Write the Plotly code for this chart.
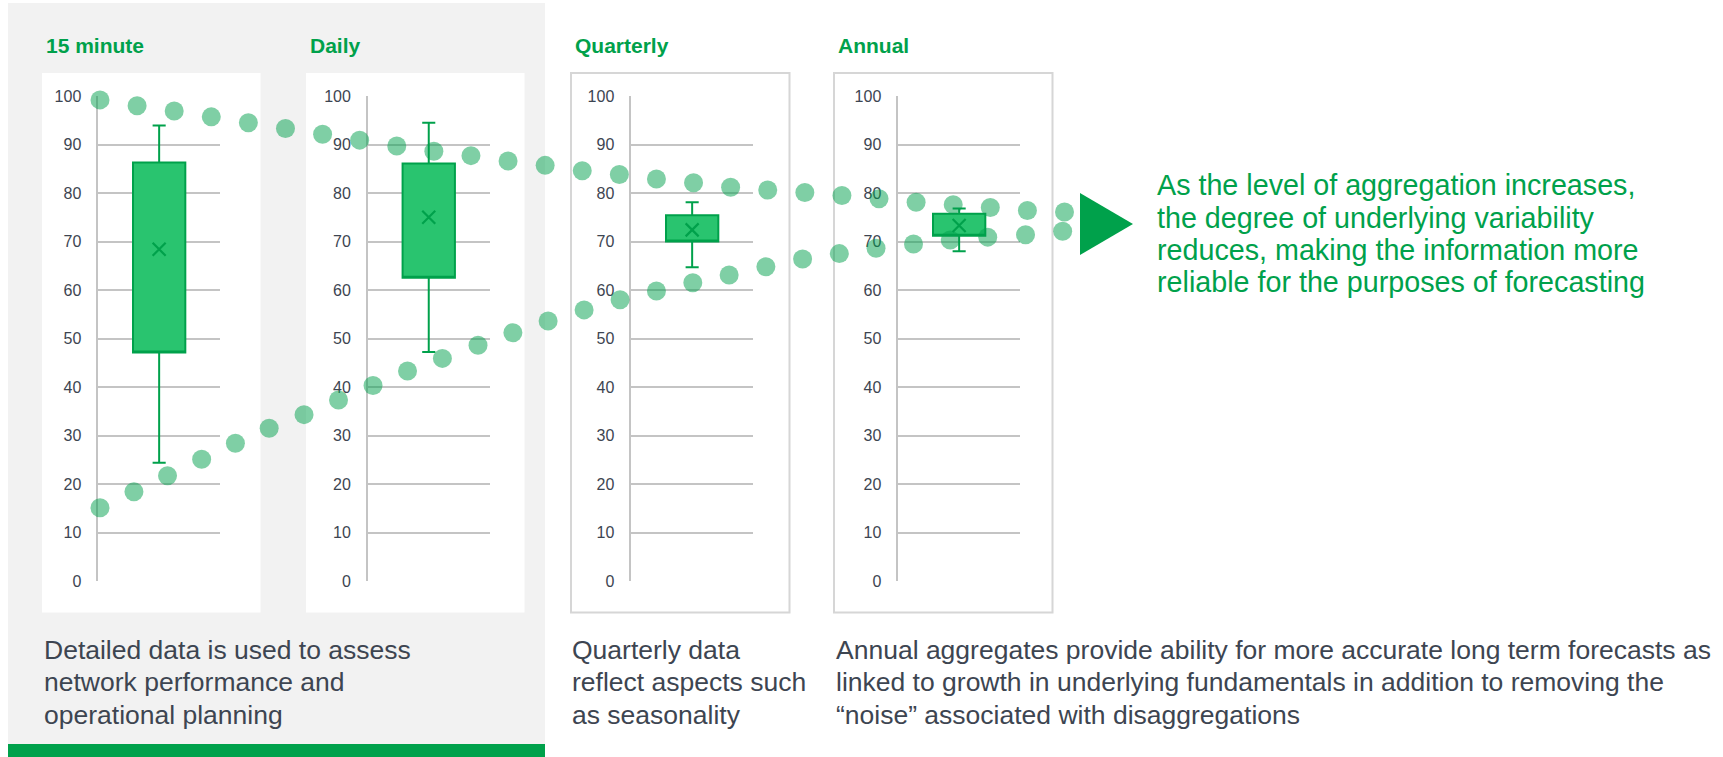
import plotly.graph_objects as go

# panel titles and captions
panel_titles = ["15 minute", "Daily", "Quarterly", "Annual"]
captions = [
    ["Detailed data is used to assess", "network performance and", "operational planning"],
    ["Quarterly data", "reflect aspects such", "as seasonality"],
    ["Annual aggregates provide ability for more accurate long term forecasts as",
     "linked to growth in underlying fundamentals in addition to removing the",
     "\u201cnoise\u201d associated with disaggregations"],
]
message = ["As the level of aggregation increases,",
           "the degree of underlying variability",
           "reduces, making the information more",
           "reliable for the purposes of forecasting"]

# box statistics per aggregation level
box_q1 = [47.1, 62.5, 70.0, 71.2]
box_q3 = [86.3, 86.1, 75.4, 75.7]
box_low = [24.4, 47.2, 64.7, 68.0]
box_high = [93.9, 94.5, 78.1, 76.8]
box_mean = [68.4, 75.0, 72.4, 73.3]

# the two converging dotted paths (x = time step)
upper_step = list(range(27))
upper_val = [99.2, 98.0, 96.9, 95.7, 94.5, 93.3, 92.1, 90.9, 89.7, 88.6, 87.7, 86.6, 85.7,
             84.6, 83.8, 82.9, 82.1, 81.2, 80.6, 80.1, 79.5, 78.8, 78.1, 77.6, 77.0, 76.4, 76.1]
lower_step = [0, 0.915, 1.82, 2.74, 3.65, 4.56, 5.50, 6.43, 7.36, 8.29, 9.23, 10.19, 11.13, 12.08,
              13.05, 14.02, 15.0, 15.98, 16.96, 17.95, 18.94, 19.93, 20.92, 21.93, 22.92, 23.93,
              24.95, 25.95]
lower_val = [15.1, 18.4, 21.7, 25.1, 28.4, 31.5, 34.3, 37.3, 40.3, 43.3, 45.9, 48.6, 51.2, 53.6,
             55.9, 58.0, 59.8, 61.5, 63.1, 64.8, 66.4, 67.5, 68.6, 69.5, 70.3, 70.9, 71.4, 72.1]

W, H = 1723, 757
GREEN = "#00a14b"
BOX_FILL = "#29c46f"
TEXT = "#3d4551"
FONT = "Arial, Liberation Sans, sans-serif"


def px(x):
    return x / W


def py(y):
    return 1 - y / H


panel_left = [42, 306, 571, 834]
axis_left = [98.3, 367.9, 631.3, 898.3]
ydom = [py(581), py(96)]

fig = go.Figure()

for i in range(4):
    xa = "x" if i == 0 else f"x{i + 1}"
    ya = "y" if i == 0 else f"y{i + 1}"
    fig.add_trace(go.Box(
        x=[0], q1=[box_q1[i]], median=[box_q1[i]], q3=[box_q3[i]],
        lowerfence=[box_low[i]], upperfence=[box_high[i]],
        width=0.43, whiskerwidth=0.25, fillcolor=BOX_FILL,
        line=dict(color=GREEN, width=2), boxpoints=False,
        xaxis=xa, yaxis=ya, showlegend=False, hoverinfo="skip"))
    fig.add_trace(go.Scatter(
        x=[0], y=[box_mean[i]], mode="markers",
        marker=dict(symbol="x-thin", size=13, line=dict(color=GREEN, width=2.2)),
        xaxis=xa, yaxis=ya, showlegend=False, hoverinfo="skip"))

dot_style = dict(size=19, color="rgba(0,160,76,0.5)")
fig.add_trace(go.Scatter(x=upper_step, y=upper_val, mode="markers", marker=dot_style,
                         xaxis="x5", yaxis="y5", showlegend=False, cliponaxis=False))
fig.add_trace(go.Scatter(x=lower_step, y=lower_val, mode="markers", marker=dot_style,
                         xaxis="x5", yaxis="y5", showlegend=False, cliponaxis=False))

layout = dict(
    width=W, height=H, autosize=False,
    margin=dict(l=0, r=0, t=0, b=0, pad=0, autoexpand=False),
    paper_bgcolor="white", plot_bgcolor="rgba(0,0,0,0)",
    font=dict(family=FONT, color=TEXT), showlegend=False,
)
for i in range(4):
    sx = "" if i == 0 else str(i + 1)
    layout["xaxis" + sx] = dict(domain=[px(axis_left[i]), px(axis_left[i] + 121.7)],
                                range=[-0.5, 0.5], visible=False, anchor="y" + sx,
                                automargin=False)
    layout["yaxis" + sx] = dict(domain=ydom, range=[0, 100], dtick=10, anchor="x" + sx,
                                showgrid=True, gridcolor="#c4c4c4", gridwidth=1.6,
                                showline=True, linecolor="#c4c4c4", linewidth=1.6,
                                zeroline=False, ticks="", ticklabelstandoff=12,
                                automargin=False,
                                tickfont=dict(size=16, color=TEXT, family=FONT))
step_px = (1064.5 - 100) / 26
layout["xaxis5"] = dict(domain=[0, 1], range=[-100 / step_px, (W - 100) / step_px],
                        visible=False, anchor="y5", automargin=False)
layout["yaxis5"] = dict(domain=ydom, range=[0, 100], visible=False, anchor="x5",
                        automargin=False)

shapes = [
    dict(type="rect", xref="paper", yref="paper", x0=px(8), x1=px(545), y0=py(744), y1=py(3),
         fillcolor="#f2f2f2", line=dict(width=0), layer="below"),
    dict(type="rect", xref="paper", yref="paper", x0=px(8), x1=px(545), y0=py(757), y1=py(744),
         fillcolor=GREEN, line=dict(width=0), layer="below"),
    dict(type="path", xref="paper", yref="paper",
         path=f"M {px(1080)},{py(193)} L {px(1133)},{py(224)} L {px(1080)},{py(255)} Z",
         fillcolor=GREEN, line=dict(width=0), layer="below"),
]
for i in range(4):
    bordered = i >= 2
    shapes.append(dict(type="rect", xref="paper", yref="paper",
                       x0=px(panel_left[i]), x1=px(panel_left[i] + 218.5),
                       y0=py(612.5), y1=py(73), fillcolor="white",
                       line=dict(width=2 if bordered else 0, color="#d6d6d6"), layer="below"))
layout["shapes"] = shapes

annotations = []
for i, t in enumerate(panel_titles):
    annotations.append(dict(text=f"<b>{t}</b>", xref="paper", yref="paper",
                            x=px(panel_left[i] + 1.5), y=py(45.5), xanchor="left", yanchor="middle",
                            showarrow=False, font=dict(size=21, color=GREEN, family=FONT)))
for j, line in enumerate(message):
    annotations.append(dict(text=line, xref="paper", yref="paper",
                            x=px(1155), y=py(185.5 + j * 32.2), xanchor="left", yanchor="middle",
                            showarrow=False, font=dict(size=28.7, color=GREEN, family=FONT)))
cap_left = [42, 569.5, 834]
for k, lines in enumerate(captions):
    for j, line in enumerate(lines):
        annotations.append(dict(text=line, xref="paper", yref="paper",
                                x=px(cap_left[k]), y=py(649.5 + j * 32.8), xanchor="left",
                                yanchor="middle", showarrow=False,
                                font=dict(size=26.5, color=TEXT, family=FONT)))
layout["annotations"] = annotations

fig.update_layout(**layout)

# pin the figure to the top-left corner of the window
pin = ("var d=document.getElementsByClassName('plotly-graph-div')[0];"
       "d.style.position='fixed';d.style.top='0';d.style.left='0';"
       "document.body.style.margin='0';document.body.style.overflow='hidden';"
       "document.documentElement.style.overflow='hidden';")
fig.write_html("out.html", config={"displayModeBar": False}, post_script=pin)
